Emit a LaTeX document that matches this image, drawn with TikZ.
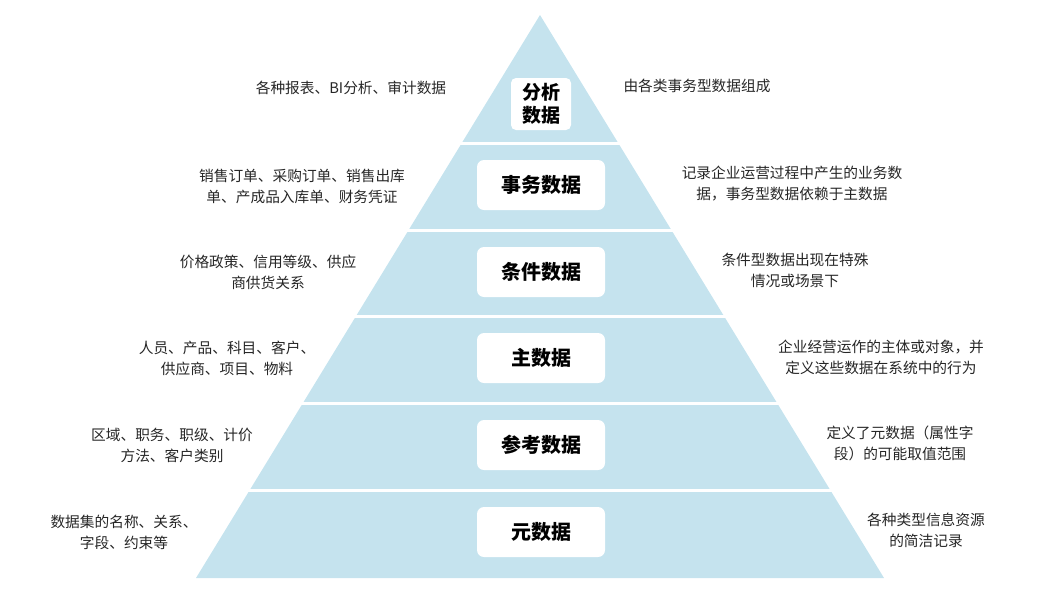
\documentclass[tikz,border=0pt]{standalone}
\usepackage{fontspec}
\setmainfont{Noto Sans CJK SC}
\begin{document}
\begin{tikzpicture}[x=1pt,y=-1pt,
  lbl/.style={fill=white,rounded corners=7pt,minimum width=128pt,minimum height=50pt,font=\fontsize{20}{24}\selectfont\bfseries,inner sep=0pt},
  txt/.style={font=\fontsize{14.7}{21}\selectfont,align=center,text=black!85}]
\useasboundingbox (0,0) rectangle (1058,600);
\definecolor{pyr}{HTML}{C5E3EE}
\fill[pyr] (540,15) coordinate (apex) -- (884,578) coordinate (br) -- (196,578) coordinate (bl) -- cycle;
\foreach \y in {143,230,316,403,490}{
  \pgfmathsetmacro{\dx}{0.611*(\y-15)+12}
  \draw[white,line width=3pt] (540-\dx,\y) -- (540+\dx,\y);
}
\node[lbl,minimum width=60pt,minimum height=52pt,rounded corners=5pt,align=center,font=\fontsize{19}{23}\selectfont\bfseries] (l0) at (541,104) {分析\\数据};
\node[lbl] (l1) at (541,185) {事务数据};
\node[lbl] (l2) at (541,272) {条件数据};
\node[lbl] (l3) at (541,358) {主数据};
\node[lbl] (l4) at (541,445) {参考数据};
\node[lbl] (l5) at (541,532) {元数据};
\node[txt] (a0) at (351,88) {各种报表、BI分析、审计数据};
\node[txt] (a1) at (302,186) {销售订单、采购订单、销售出库\\单、产成品入库单、财务凭证};
\node[txt] (a2) at (268,272) {价格政策、信用等级、供应\\商供货关系};
\node[txt] (a3) at (227,358) {人员、产品、科目、客户、\\供应商、项目、物料};
\node[txt] (a4) at (172,445) {区域、职务、职级、计价\\方法、客户类别};
\node[txt] (a5) at (124,532) {数据集的名称、关系、\\字段、约束等};
\node[txt] (b0) at (697,86) {由各类事务型数据组成};
\node[txt] (b1) at (792,184) {记录企业运营过程中产生的业务数\\据，事务型数据依赖于主数据};
\node[txt] (b2) at (795,270) {条件型数据出现在特殊\\情况或场景下};
\node[txt] (b3) at (881,357) {企业经营运作的主体或对象，并\\定义这些数据在系统中的行为};
\node[txt] (b4) at (900,443) {定义了元数据（属性字\\段）的可能取值范围};
\node[txt] (b5) at (926,530) {各种类型信息资源\\的简洁记录};
\end{tikzpicture}
\end{document}
